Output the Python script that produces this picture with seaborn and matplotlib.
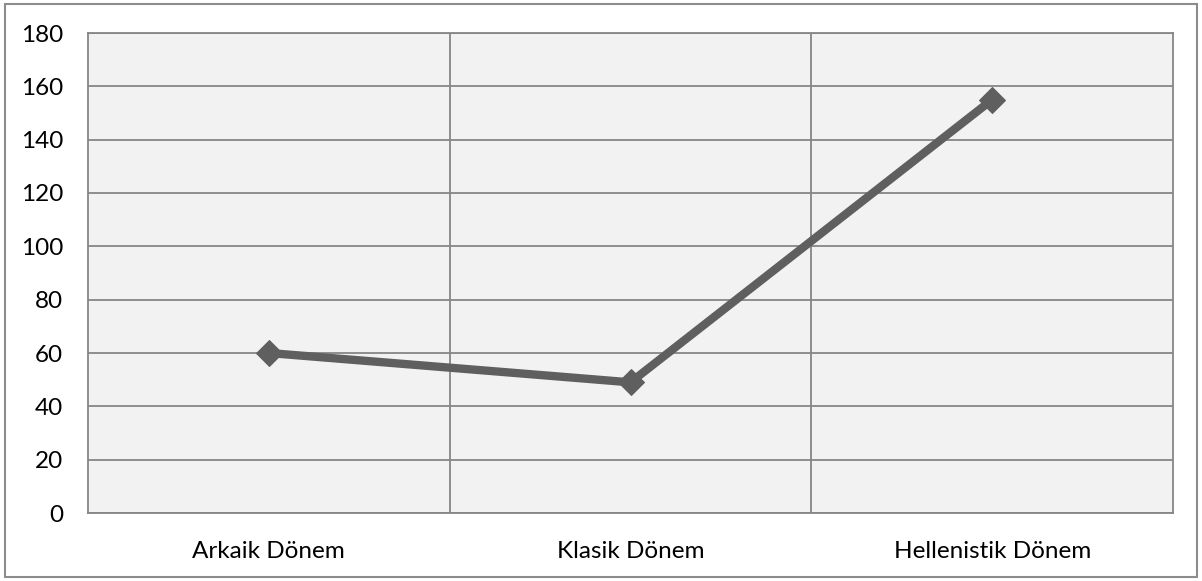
import pandas as pd
import numpy as np
import seaborn as sns
import matplotlib.pyplot as plt
from matplotlib.patches import Rectangle

# Data
periods = ["Arkaik Dönem", "Klasik Dönem", "Hellenistik Dönem"]
counts = [60, 49, 155]
y_ticks = [0, 20, 40, 60, 80, 100, 120, 140, 160, 180]

df = pd.DataFrame({"Dönem": periods, "Sayı": counts})

sns.set_style("white")
plt.rcParams["font.family"] = ["Lato", "DejaVu Sans"]

fig = plt.figure(figsize=(12.02, 5.81), dpi=100)
ax = fig.add_axes([88 / 1202, 68 / 581, 1085 / 1202, 480 / 581])
ax.set_facecolor("#f2f2f2")

grid_col = "#868686"

sns.lineplot(
    data=df, x="Dönem", y="Sayı", ax=ax,
    color="#5f5f5f", linewidth=6, marker="D", markersize=13.5,
    markeredgecolor="#5f5f5f", sort=False, zorder=3
)

ax.set_xlim(-0.5, len(periods) - 0.5)
ax.set_ylim(0, 180)
ax.set_yticks(y_ticks)
ax.set_xticks(range(len(periods)))
ax.set_xticklabels(periods)
# category boundaries as vertical gridlines
ax.set_xticks(np.arange(0.5, len(periods) - 0.5, 1), minor=True)
ax.grid(axis="y", which="major", color=grid_col, linewidth=1.3, zorder=1)
ax.grid(axis="x", which="minor", color=grid_col, linewidth=1.3, zorder=1)
ax.set_axisbelow(True)

ax.set_xlabel("")
ax.set_ylabel("")
ax.tick_params(axis="both", which="both", length=0, labelsize=17.5, colors="black")
ax.tick_params(axis="y", pad=18)
ax.tick_params(axis="x", pad=20)

for side in ["left", "bottom", "right", "top"]:
    ax.spines[side].set_visible(True)
    ax.spines[side].set_color(grid_col)
    ax.spines[side].set_linewidth(1.3)

# outer chart border
fig.patches.append(Rectangle((5 / 1202, 4 / 581), 1192 / 1202, 573 / 581,
                             transform=fig.transFigure, fill=False,
                             edgecolor="#8c8c8c", linewidth=1.5))

plt.savefig("out.png", dpi=100)
